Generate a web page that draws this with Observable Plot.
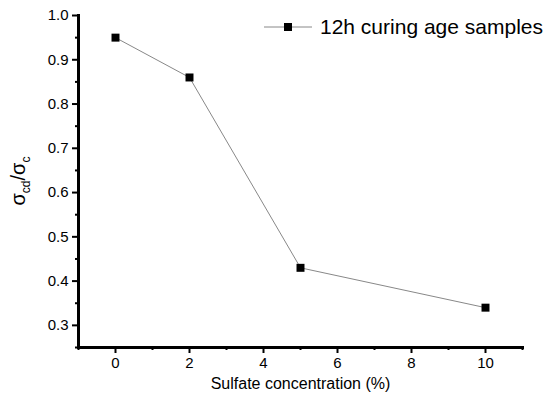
<!DOCTYPE html>
<html><head><meta charset="utf-8">
<script src="https://cdn.jsdelivr.net/npm/d3@7"></script>
<script src="https://cdn.jsdelivr.net/npm/@observablehq/plot@0.6"></script>
<style>
body{margin:0;background:#fff;font-family:"Liberation Sans",Arial,sans-serif;}
#wrap{position:relative;width:550px;height:401px;}
#legend{position:absolute;left:262px;top:15px;display:flex;align-items:center;font-size:21px;color:#000;}
</style></head>
<body><div id="wrap"><div id="legend"></div></div>
<script>
const sulfate = [0, 2, 5, 10];
const ratio = [0.95, 0.86, 0.43, 0.34];
const seriesName = "12h curing age samples";
const yMajor = [0.3, 0.4, 0.5, 0.6, 0.7, 0.8, 0.9, 1.0];
const yMinor = [0.25, 0.35, 0.45, 0.55, 0.65, 0.75, 0.85, 0.95];
const xMajor = [0, 2, 4, 6, 8, 10];
const xMinor = [-1, 1, 3, 5, 7, 9, 11];

const data = sulfate.map((x, i) => ({x, y: ratio[i]}));

const chart = Plot.plot({
  width: 550, height: 401,
  marginLeft: 78, marginRight: 28, marginTop: 15, marginBottom: 54,
  style: {fontFamily: "Liberation Sans, Arial, sans-serif", fontSize: "14px", color: "#000", background: "#fff"},
  x: {domain: [-1, 11]},
  y: {domain: [0.25, 1.0]},
  marks: [
    Plot.axisX({ticks: xMajor, tickSize: 6, tickPadding: 4, tickFormat: d => String(d), fontSize: 15, label: null, stroke: "#000", strokeWidth: 2, fill: "#000"}),
    Plot.axisX({ticks: xMinor, tickSize: 3, tickFormat: () => "", label: null, stroke: "#000", strokeWidth: 2}),
    Plot.axisY({ticks: yMajor, tickSize: 6, tickPadding: 4, tickFormat: d3.format(".1f"), fontSize: 15, label: null, stroke: "#000", strokeWidth: 2, fill: "#000"}),
    Plot.axisY({ticks: yMinor, tickSize: 3, tickFormat: () => "", label: null, stroke: "#000", strokeWidth: 2}),
    Plot.frame({anchor: "left", stroke: "#000", strokeWidth: 3}),
    Plot.frame({anchor: "bottom", stroke: "#000", strokeWidth: 3}),
    Plot.line(data, {x: "x", y: "y", stroke: "#888", strokeWidth: 1}),
    Plot.dot(data, {x: "x", y: "y", symbol: "square", r: 4.5, fill: "#000", stroke: "none"}),
    Plot.text(["Sulfate concentration (%)"], {frameAnchor: "bottom", dy: 41, fontSize: 16, fill: "#000"})
  ]
});
document.getElementById("wrap").appendChild(chart);

// y-axis label with subscripts
const svg = d3.select(chart);
const yl = svg.append("text")
  .attr("transform", "translate(25,181) rotate(-90)")
  .attr("text-anchor", "middle")
  .attr("font-size", 20)
  .attr("fill", "#000");
yl.append("tspan").text("σ");
yl.append("tspan").attr("font-size", 12).attr("dy", 5).text("cd");
yl.append("tspan").attr("dy", -5).text("/σ");
yl.append("tspan").attr("font-size", 12).attr("dy", 5).text("c");

// legend
const lg = document.getElementById("legend");
lg.innerHTML = `<svg width="52" height="12" style="margin-right:6px"><line x1="2" y1="6" x2="50" y2="6" stroke="#888" stroke-width="1"/><rect x="22" y="2" width="8" height="8" fill="#000"/></svg><span>${seriesName}</span>`;
</script></body></html>
